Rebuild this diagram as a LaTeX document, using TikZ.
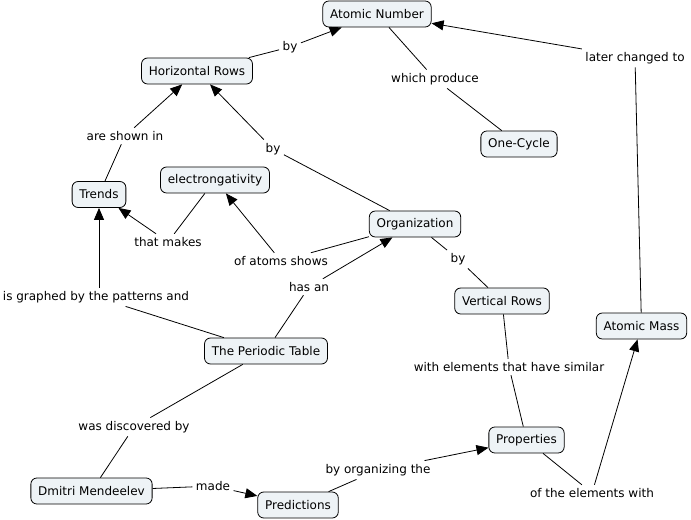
\documentclass[tikz,border=0pt]{standalone}
\usepackage{fontspec}
\setmainfont{DejaVu Sans}
\usetikzlibrary{arrows.meta}
\definecolor{boxfill}{RGB}{238,243,246}
\tikzset{
  concept/.style={draw=black, line width=0.6pt, fill=boxfill, rounded corners=4.5pt,
    minimum height=19.5pt, inner xsep=5.5pt, inner ysep=2pt, font=\fontsize{9}{11}\selectfont},
  link/.style={inner sep=2.5pt, font=\fontsize{9}{11}\selectfont, fill=white},
  conn/.style={line width=0.6pt, black},
  arr/.style={conn, -{Triangle[length=9pt,width=7.5pt]}}
}
\begin{document}
\begin{tikzpicture}[x=0.75pt,y=-0.75pt]
\useasboundingbox (0,0) rectangle (691,520);
% concepts
\node[concept] (an) at (377,14) {Atomic Number};
\node[concept] (hr) at (197,71) {Horizontal Rows};
\node[concept] (oc) at (519,144) {One-Cycle};
\node[concept] (tr) at (99,194.5) {Trends};
\node[concept] (el) at (215,180) {electrongativity};
\node[concept] (or) at (415,224) {Organization};
\node[concept] (vr) at (502,301) {Vertical Rows};
\node[concept] (am) at (641.5,326) {Atomic Mass};
\node[concept] (pt) at (266,351) {The Periodic Table};
\node[concept] (pr) at (526.5,440) {Properties};
\node[concept] (dm) at (91.5,491) {Dmitri Mendeelev};
\node[concept] (pd) at (298,505) {Predictions};
% linking phrases
\node[link] (l1) at (290,47) {by};
\node[link] (l2) at (435,79) {which produce};
\node[link] (l3) at (635,58) {later changed to};
\node[link] (l4) at (125,136) {are shown in};
\node[link] (l5) at (273,149) {by};
\node[link] (l6) at (168,242) {that makes};
\node[link] (l7) at (281,261) {of atoms shows};
\node[link] (l8) at (458,259) {by};
\node[link] (l9) at (309,287) {has an};
\node[link] (l10) at (96,297) {is graphed by the patterns and};
\node[link] (l11) at (509,367) {with elements that have similar};
\node[link] (l12) at (134,427) {was discovered by};
\node[link] (l13) at (213,486) {made};
\node[link] (l14) at (378,470) {by organizing the};
\node[link] (l15) at (592,493) {of the elements with};
% connectors
\draw[conn] (hr) -- (l1); \draw[arr] (l1) -- (an);
\draw[conn] (an) -- (l2); \draw[conn] (l2) -- (oc);
\draw[conn] (am) -- (l3); \draw[arr] (l3) -- (an);
\draw[conn] (tr) -- (l4); \draw[arr] (l4) -- (hr);
\draw[conn] (or) -- (l5); \draw[arr] (l5) -- (hr);
\draw[conn] (el) -- (l6); \draw[arr] (l6) -- (tr);
\draw[conn] (or) -- (l7); \draw[arr] (l7) -- (el);
\draw[conn] (or) -- (l8); \draw[conn] (l8) -- (vr);
\draw[conn] (pt) -- (l9); \draw[arr] (l9) -- (or);
\draw[conn] (pt) -- (l10); \draw[arr] (l10.north -| tr) -- (tr);
\draw[conn] (vr) -- (l11); \draw[conn] (l11) -- (pr);
\draw[conn] (pt) -- (l12); \draw[conn] (l12) -- (dm);
\draw[conn] (dm) -- (l13); \draw[arr] (l13) -- (pd);
\draw[conn] (pd) -- (l14); \draw[arr] (l14) -- (pr);
\draw[conn] (pr) -- (l15); \draw[arr] (l15) -- (am);
\end{tikzpicture}
\end{document}
